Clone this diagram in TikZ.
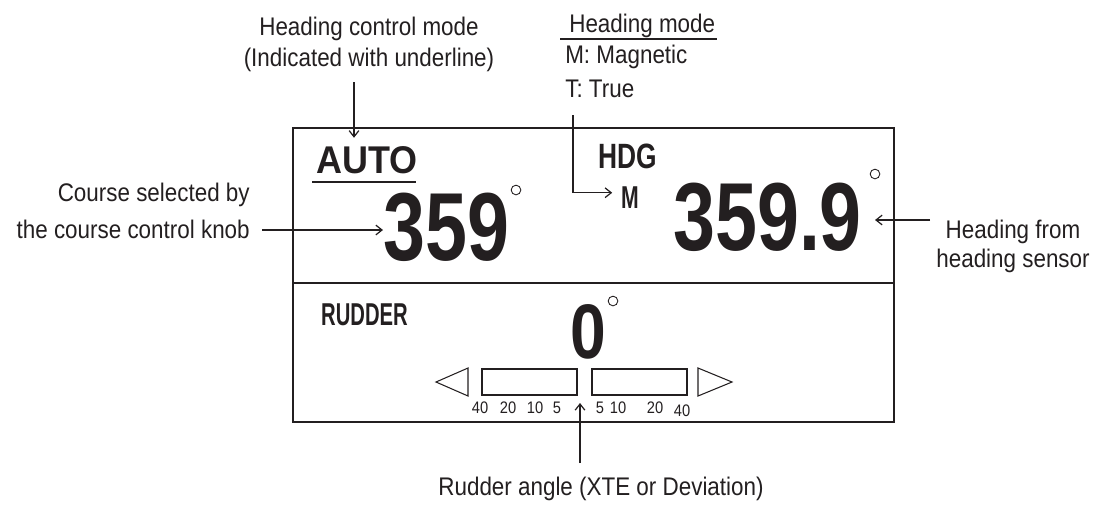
\documentclass[tikz,border=0pt]{standalone}
\usepackage{fontspec}
\setmainfont{Liberation Sans}
\usetikzlibrary{arrows.meta, positioning, calc}
\definecolor{ink}{RGB}{35,31,32}
\tikzset{
  note/.style={inner sep=0pt, text=ink, xscale=0.88, font=\fontsize{14.5pt}{#1}\selectfont},
  note/.default=17.6pt,
  lcd/.style={inner sep=0pt, text=ink, font=\bfseries\fontsize{#1}{#1}\selectfont},
  degsign/.style={draw=ink, circle, line width=0.5pt, inner sep=0pt, minimum size=5.5pt},
  arr/.style={-{Straight Barb[length=3.5pt,width=5.5pt]}, draw=ink, line width=0.7pt},
  bar/.style={draw=ink, line width=0.6pt},
  tick/.style={inner sep=0pt, text=ink, xscale=0.88, font=\fontsize{9.5pt}{9.5pt}\selectfont},
}

\begin{document}
\begin{tikzpicture}[x=0.02cm, y=-0.02cm]
\useasboundingbox (0,0) rectangle (1108,505);

\draw[ink, line width=1pt] (293,128) rectangle (894,422);
\draw[ink, line width=1pt] (293,283) -- (894,283);

\node[note=17.6pt, align=center, anchor=north] (ctlmode) at (369,17) {Heading control mode\\(Indicated with underline)};
\node[lcd=22pt, xscale=0.93, anchor=base west] (auto) at (316,173) {AUTO};
\draw[ink, line width=0.9pt] (312,182) -- (416,182);
\coordinate (ctltail) at (354,82);
\draw[arr, shorten >=4.5pt] (ctltail) -- (ctltail |- auto.north);

\node[note=21pt, align=right, anchor=north east] (knobnote) at (250,183) {Course selected by\\the course control knob};
\node[lcd=55pt, xscale=0.78, anchor=base west] (course) at (383,260) {359};
\node[degsign] (coursedeg) at (516,190) {};
\coordinate (knobtail) at (262,230);
\draw[arr] (knobtail) -- (knobtail -| course.west);

\node[note, anchor=base west] (modetitle) at (569,32) {Heading mode};
\draw[ink, line width=0.7pt] (560,39) -- (717,39);
\node[note=19.3pt, align=left, anchor=north west] (modelist) at (565,45) {M: Magnetic\\T: True};
\node[lcd=20pt, xscale=0.75, anchor=base west] (hdg) at (598,168) {HDG};
\node[lcd=18pt, xscale=0.67, anchor=base west] (hdgm) at (621,208) {M};
\coordinate (modetail) at (573,115);
\draw[arr] (modetail) |- ([xshift=-5pt,yshift=2.5pt]hdgm.west);

\node[lcd=55pt, xscale=0.78, anchor=base west] (hdgval) at (673,250) {359.9};
\node[degsign] (hdgdeg) at (875,174) {};
\node[note=16.5pt, align=center, anchor=north] (sensornote) at (1013,220) {Heading from\\heading sensor};
\coordinate (sensortail) at (930,220);
\draw[arr] (sensortail) -- (sensortail -| hdgdeg);

\node[lcd=18pt, xscale=0.64, anchor=base west] (rudder) at (321,325) {RUDDER};
\node[lcd=44pt, xscale=0.83, anchor=base west] (rudval) at (570,358) {0};
\node[degsign] (ruddeg) at (613,301) {};
\draw[bar] (468,368) -- (436,382) -- (468,396) -- cycle;
\draw[bar] (482,369) rectangle (577,395);
\draw[bar] (592,369) rectangle (687,395);
\draw[bar] (698,368) -- (732,382) -- (698,396) -- cycle;
\foreach \x/\t in {480/40, 508/20, 535/10, 557/5, 600/5, 618/10, 655/20}
  \node[tick, anchor=base] (t\x) at (\x,413) {\t};
\node[tick, anchor=base] (t682) at (682,416) {40};
\coordinate (barmid) at (580,403);
\coordinate (ruddertail) at (580,463);
\draw[arr] (ruddertail) -- (barmid);
\node[note, anchor=base] (ruddernote) at (601,495) {Rudder angle (XTE or Deviation)};
\end{tikzpicture}
\end{document}
